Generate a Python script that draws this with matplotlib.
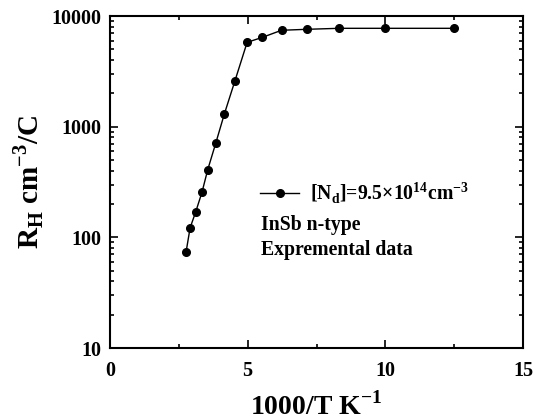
import numpy as np
import matplotlib.pyplot as plt
from matplotlib.ticker import MultipleLocator, LogLocator, NullFormatter

# data
inv_T = [2.76, 2.91, 3.11, 3.34, 3.55, 3.84, 4.15, 4.54, 4.98, 5.53, 6.23, 7.14, 8.32, 9.99, 12.5]
R_H = [73, 122, 169, 255, 409, 708, 1294, 2606, 5780, 6410, 7430, 7580, 7740, 7740, 7740]

plt.rcParams['font.family'] = ['Liberation Serif', 'DejaVu Serif']
plt.rcParams['font.weight'] = 'bold'
plt.rcParams['mathtext.fontset'] = 'custom'
plt.rcParams['mathtext.rm'] = 'Liberation Serif:bold'
plt.rcParams['mathtext.bf'] = 'Liberation Serif:bold'

fig = plt.figure(figsize=(5.37, 4.19), dpi=100)
ax = fig.add_axes([110/537, 1 - 348/419, 413/537, 332/419])

ax.plot(inv_T, R_H, '-o', color='black', lw=1.0, ms=5.5,
        label=r'[N$_\mathregular{d}$]=9.5$\times$10$^\mathregular{14}$cm$^\mathregular{-3}$')

ax.set_yscale('log')
ax.set_xlim(0, 15)
ax.set_ylim(10, 10000)
ax.xaxis.set_major_locator(MultipleLocator(5))
ax.xaxis.set_minor_locator(MultipleLocator(2.5))
ax.yaxis.set_minor_locator(LogLocator(base=10, subs=np.arange(2, 10), numticks=10))
ax.yaxis.set_minor_formatter(NullFormatter())
ax.set_yticks([10, 100, 1000, 10000])
ax.set_yticklabels(['10', '100', '1000', '10000'])

ax.tick_params(which='both', direction='in', top=True, right=True, labelsize=14.5, width=1.2)
ax.tick_params(axis='x', pad=9)
ax.tick_params(axis='y', pad=6)
ax.tick_params(which='major', length=6)
ax.tick_params(which='minor', length=3)
for s in ax.spines.values():
    s.set_linewidth(1.5)
for lab in ax.get_xticklabels() + ax.get_yticklabels():
    lab.set_fontweight('bold')

ax.set_xlabel(r'1000/T K$^\mathregular{-1}$', fontsize=20, fontweight='bold', labelpad=8)
ax.set_ylabel(r'R$_\mathregular{H}$ cm$^\mathregular{-3}$/C', fontsize=21, fontweight='bold', labelpad=4)

ax.legend(loc='center left', bbox_to_anchor=(0.363, 0.467), frameon=False,
          prop={'size': 14.2, 'weight': 'bold'}, handlelength=2.0, handletextpad=0.55,
          borderpad=0, borderaxespad=0)
ax.text(0.366, 0.370, 'InSb n-type', transform=ax.transAxes, fontsize=14.2,
        fontweight='bold', va='center')
ax.text(0.366, 0.295, 'Expremental data', transform=ax.transAxes, fontsize=14.2,
        fontweight='bold', va='center')

fig.savefig('out.png', dpi=100)
